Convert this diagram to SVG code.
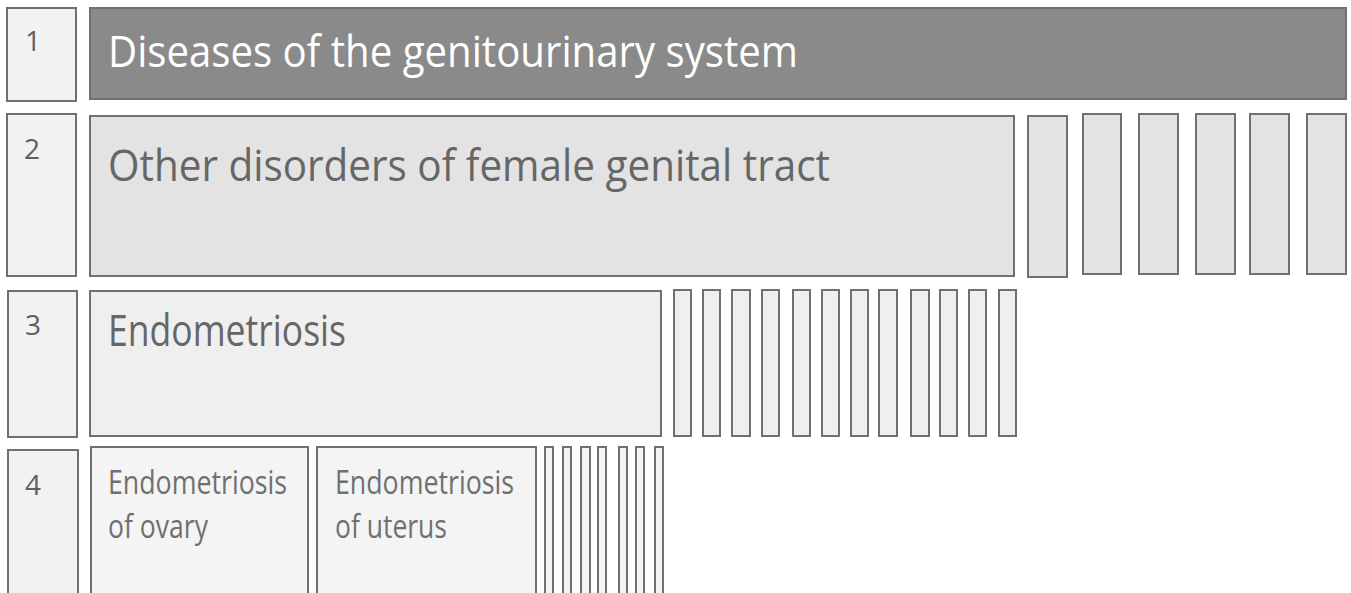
<svg xmlns="http://www.w3.org/2000/svg" width="1351" height="593" viewBox="0 0 1351 593">
<style>
g rect { stroke: #707070; stroke-width: 2; }
.num rect { fill: #f2f2f2; }
.num text { font-family: "Open Sans", "Noto Sans", sans-serif; font-size: 28px; fill: #606060; }
.l1 { fill: #8a8a8a; }
.l2 { fill: #e3e3e3; }
.l3 { fill: #efefef; }
.l4 { fill: #f4f4f4; }
.t { font-family: "Open Sans", "Noto Sans", sans-serif; }
.big { font-size: 44px; }
.small { font-size: 33px; }
</style>
<rect x="0" y="0" width="1351" height="593" style="fill:#ffffff;stroke:none"/>
<g id="level-numbers" class="num">
  <g id="num1"><rect x="7" y="8" width="69" height="93"/><text x="25" y="51">1</text></g>
  <g id="num2"><rect x="7" y="114" width="69" height="162"/><text x="24" y="159">2</text></g>
  <g id="num3"><rect x="8" y="291" width="69" height="146"/><text x="25" y="335">3</text></g>
  <g id="num4"><rect x="8" y="450" width="70" height="160"/><text x="25" y="495">4</text></g>
</g>
<g id="level1">
  <rect class="l1" x="90" y="8" width="1256" height="91"/>
  <text class="t big" x="108" y="67" fill="#ffffff" textLength="690" lengthAdjust="spacingAndGlyphs">Diseases of the genitourinary system</text>
</g>
<g id="level2">
  <g id="node-other-disorders">
    <rect class="l2" x="90" y="116" width="924" height="160"/>
    <text class="t big" x="108" y="181" fill="#666666" textLength="722" lengthAdjust="spacingAndGlyphs">Other disorders of female genital tract</text>
  </g>
  <g id="level2-siblings">
    <rect class="l2" x="1028" y="116" width="39" height="161"/>
    <rect class="l2" x="1083" y="114" width="38" height="160"/>
    <rect class="l2" x="1139" y="114" width="39" height="160"/>
    <rect class="l2" x="1196" y="114" width="39" height="160"/>
    <rect class="l2" x="1250" y="114" width="39" height="160"/>
    <rect class="l2" x="1307" y="114" width="39" height="160"/>
  </g>
</g>
<g id="level3">
  <g id="node-endometriosis">
    <rect class="l3" x="90" y="291" width="571" height="145"/>
    <text class="t big" x="108" y="346" fill="#666666" textLength="238" lengthAdjust="spacingAndGlyphs">Endometriosis</text>
  </g>
  <g id="level3-siblings">
    <rect class="l3" x="674" y="290" width="17" height="146"/>
    <rect class="l3" x="703" y="290" width="17" height="146"/>
    <rect class="l3" x="732" y="290" width="18" height="146"/>
    <rect class="l3" x="762" y="290" width="17" height="146"/>
    <rect class="l3" x="793" y="290" width="17" height="146"/>
    <rect class="l3" x="822" y="290" width="17" height="146"/>
    <rect class="l3" x="851" y="290" width="17" height="146"/>
    <rect class="l3" x="879" y="290" width="18" height="146"/>
    <rect class="l3" x="911" y="290" width="18" height="146"/>
    <rect class="l3" x="940" y="290" width="17" height="146"/>
    <rect class="l3" x="969" y="290" width="17" height="146"/>
    <rect class="l3" x="999" y="290" width="17" height="146"/>
  </g>
</g>
<g id="level4">
  <g id="node-ovary">
    <rect class="l4" x="91" y="447" width="217" height="160"/>
    <text class="t small" fill="#707070"><tspan x="108" y="494" textLength="179" lengthAdjust="spacingAndGlyphs">Endometriosis</tspan><tspan x="108" y="538" textLength="100" lengthAdjust="spacingAndGlyphs">of ovary</tspan></text>
  </g>
  <g id="node-uterus">
    <rect class="l4" x="317" y="447" width="219" height="160"/>
    <text class="t small" fill="#707070"><tspan x="335" y="494" textLength="179" lengthAdjust="spacingAndGlyphs">Endometriosis</tspan><tspan x="335" y="538" textLength="112" lengthAdjust="spacingAndGlyphs">of uterus</tspan></text>
  </g>
  <g id="level4-siblings">
    <rect class="l4" x="545" y="447" width="8" height="160"/>
    <rect class="l4" x="563" y="447" width="8" height="160"/>
    <rect class="l4" x="581" y="447" width="9" height="160"/>
    <rect class="l4" x="598" y="447" width="8" height="160"/>
    <rect class="l4" x="619" y="447" width="8" height="160"/>
    <rect class="l4" x="636" y="447" width="8" height="160"/>
    <rect class="l4" x="655" y="447" width="8" height="160"/>
  </g>
</g>
<g id="connectors"></g>
</svg>
